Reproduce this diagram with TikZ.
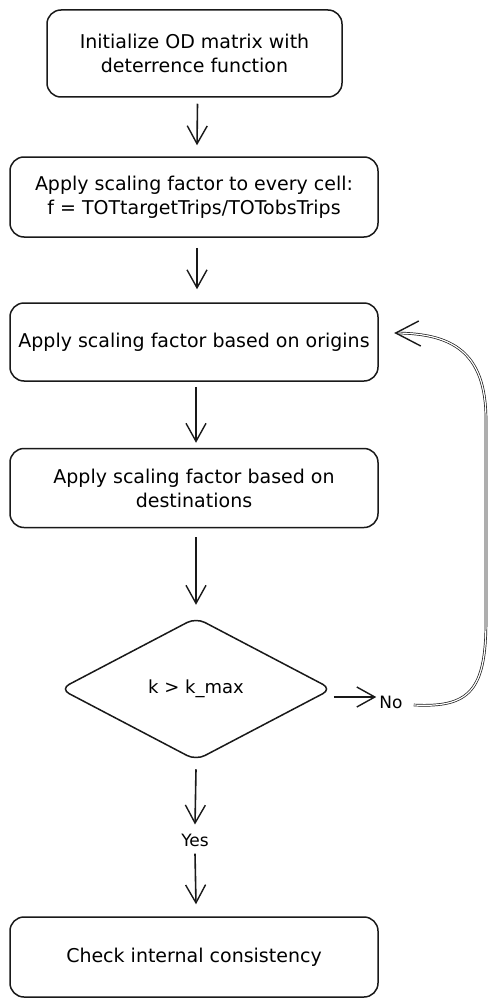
\documentclass[tikz,border=0pt]{standalone}
\usepackage{fontspec}
\setmainfont{DejaVu Sans}
\usetikzlibrary{arrows.meta,shapes.geometric,calc}
\begin{document}
\begin{tikzpicture}[x=1pt,y=-1pt,
  box/.style={draw=black!90,line width=1.5pt,rounded corners=14pt,align=center,inner sep=0pt,font=\fontsize{19}{24}\selectfont},
  lbl/.style={font=\fontsize{17}{22}\selectfont,inner sep=1pt},
  arr/.style={draw=black!90,line width=1.6pt,-{Straight Barb[length=18pt,width=20pt,line width=1.4pt]}},
  dec/.style={draw=black!90,line width=1.5pt,diamond,aspect=1.9,rounded corners=10pt,inner sep=0pt,font=\fontsize{18}{22}\selectfont}
]
\useasboundingbox (0,0) rectangle (498,1006);
\node[box,minimum width=295pt,minimum height=87pt] (b1) at (194.5,53.5) {Initialize OD matrix with\\deterrence function};
\node[box,minimum width=368pt,minimum height=80pt] (b2) at (194,197) {Apply scaling factor to every cell:\\f = TOTtargetTrips/TOTobsTrips};
\node[box,minimum width=368pt,minimum height=78pt] (b3) at (194,342) {Apply scaling factor based on origins};
\node[box,minimum width=368pt,minimum height=79pt] (b4) at (194,488) {Apply scaling factor based on\\destinations};
\node[dec,minimum width=272pt,minimum height=143pt] (d) at (196,689) {k > k\_max};
\node[lbl] (no) at (391,702) {No};
\node[lbl] (yes) at (195,840) {Yes};
\node[box,minimum width=368pt,minimum height=80pt] (b5) at (194,957) {Check internal consistency};
\draw[arr] ([xshift=3pt,yshift=-6pt]b1.south) -- ([xshift=3pt,yshift=11pt]b2.north);
\draw[arr] ([xshift=3pt,yshift=-10pt]b2.south) -- ([xshift=3pt,yshift=13pt]b3.north);
\draw[arr] ([xshift=2pt,yshift=-5pt]b3.south) -- ([xshift=2pt,yshift=5pt]b4.north);
\draw[arr] ([xshift=2pt,yshift=-9pt]b4.south) -- ([yshift=12pt]d.north);
\draw[arr] ([yshift=-8pt]d.south) -- ([yshift=8pt]yes.north);
\draw[arr] ([yshift=-6pt]yes.south) -- ([xshift=2pt,yshift=12pt]b5.north);
\draw[arr] ([xshift=1pt,yshift=-8pt]d.east) -- ([xshift=-2pt,yshift=5pt]no.west);
\draw[draw=black!90,line width=0.7pt,double distance=1.2pt] ([xshift=10pt,yshift=-3pt]no.east) .. controls (470,708) and (486,690) .. (486,620) -- (486,420) .. controls (486,350) and (450,334) .. ([xshift=19pt,yshift=9pt]b3.east);
\draw[draw=black!90,line width=1.4pt] ([xshift=40pt,yshift=21pt]b3.east) -- ([xshift=17pt,yshift=9pt]b3.east) -- ([xshift=42pt,yshift=-4pt]b3.east);
\end{tikzpicture}
\end{document}
